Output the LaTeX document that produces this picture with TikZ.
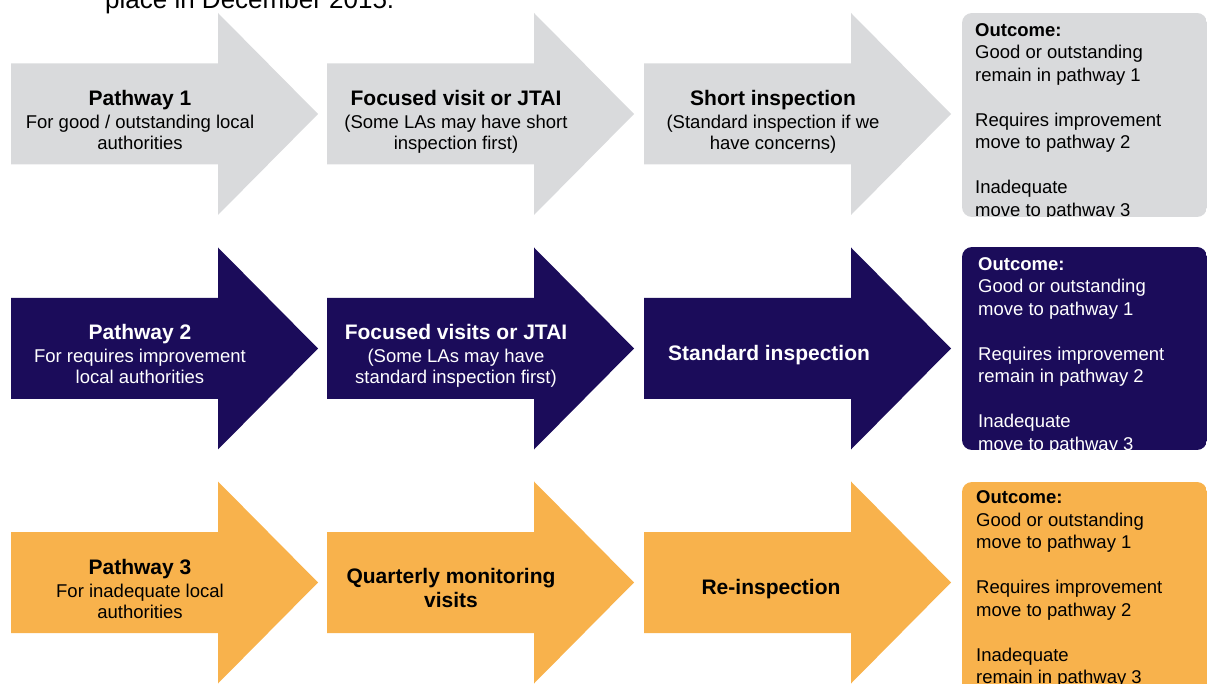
\documentclass[tikz,border=0pt]{standalone}
\usepackage{fontspec}
\setmainfont{Liberation Sans}
\definecolor{pgray}{HTML}{D9DADC}
\definecolor{pnavy}{HTML}{1B0C5A}
\definecolor{porange}{HTML}{F8B24C}
\newcommand\txtN{\fontsize{18.5}{21}\selectfont}
\newcommand\txtB{\bfseries\fontsize{21}{24}\selectfont}
\newcommand\txtO{\fontsize{18.5}{22.5}\selectfont}
% #1 left x, #2 centre y, #3 colour
\newcommand\bigarrow[3]{%
  \fill[#3] (#1,#2-50.5) -- (#1+207,#2-50.5) -- (#1+207,#2-101) -- (#1+307,#2)
    -- (#1+207,#2+101) -- (#1+207,#2+50.5) -- (#1,#2+50.5) -- cycle;}
\tikzset{
  lab/.style={anchor=base, align=center, font=\txtN, inner sep=0pt},
  blab/.style={anchor=base, align=center, font=\txtB, inner sep=0pt},
  outc/.style={anchor=base west, align=left, font=\txtO, inner sep=0pt},
}
\begin{document}
\begin{tikzpicture}[x=1pt,y=-1pt]
\useasboundingbox (0,0) rectangle (1208,684);
\clip (0,0) rectangle (1208,684);
\node[anchor=base west, font=\fontsize{26}{30}\selectfont, inner sep=0pt] (intro) at (105,8.5) {place in December 2015.};

% ---------- row 1 (grey) ----------
\bigarrow{11}{114}{pgray}
\bigarrow{327}{114}{pgray}
\bigarrow{644}{114}{pgray}
\node[lab] (p1) at (140,149.5) {{\txtB Pathway 1}\\[2pt]For good / outstanding local\\authorities};
\node[lab] (f1) at (456,149.5) {{\txtB Focused visit or JTAI}\\[2pt](Some LAs may have short\\inspection first)};
\node[lab] (s1) at (773,149.5) {{\txtB Short inspection}\\[2pt](Standard inspection if we\\have concerns)};
\begin{scope}
  \path[clip] (962,13) [rounded corners=10] rectangle (1207,217);
  \fill[pgray] (962,13) rectangle (1207,217);
  \node[outc] (o1) at (975,216.5) {\textbf{Outcome:}\\Good or outstanding\\remain in pathway 1\\[22.5pt]Requires improvement\\move to pathway 2\\[22.5pt]Inadequate\\move to pathway 3};
\end{scope}

% ---------- row 2 (navy) ----------
\bigarrow{11}{348.5}{pnavy}
\bigarrow{327}{348.5}{pnavy}
\bigarrow{644}{348.5}{pnavy}
\node[lab, text=white] (p2) at (140,384) {{\txtB Pathway 2}\\[2pt]For requires improvement\\local authorities};
\node[lab, text=white] (f2) at (456,384) {{\txtB Focused visits or JTAI}\\[2pt](Some LAs may have\\standard inspection first)};
\node[blab, text=white] (s2) at (769,360.5) {Standard inspection};
\begin{scope}
  \path[clip] (962,247) [rounded corners=10] rectangle (1207,450);
  \fill[pnavy] (962,247) rectangle (1207,450);
  \node[outc, text=white] (o2) at (978,450.5) {\textbf{Outcome:}\\Good or outstanding\\move to pathway 1\\[22.5pt]Requires improvement\\remain in pathway 2\\[22.5pt]Inadequate\\move to pathway 3};
\end{scope}

% ---------- row 3 (orange) ----------
\bigarrow{11}{582.5}{porange}
\bigarrow{327}{582.5}{porange}
\bigarrow{644}{582.5}{porange}
\node[lab] (p3) at (140,618) {{\txtB Pathway 3}\\[2pt]For inadequate local\\authorities};
\node[blab] (q3) at (451,607.5) {Quarterly monitoring\\visits};
\node[blab] (r3) at (771,594.5) {Re-inspection};
\begin{scope}
  \path[clip] (962,482) [rounded corners=10] rectangle (1207,710);
  \fill[porange] (962,482) rectangle (1207,710);
  \node[outc] (o3) at (976,683.5) {\textbf{Outcome:}\\Good or outstanding\\move to pathway 1\\[22.5pt]Requires improvement\\move to pathway 2\\[22.5pt]Inadequate\\remain in pathway 3};
\end{scope}
\end{tikzpicture}
\end{document}
